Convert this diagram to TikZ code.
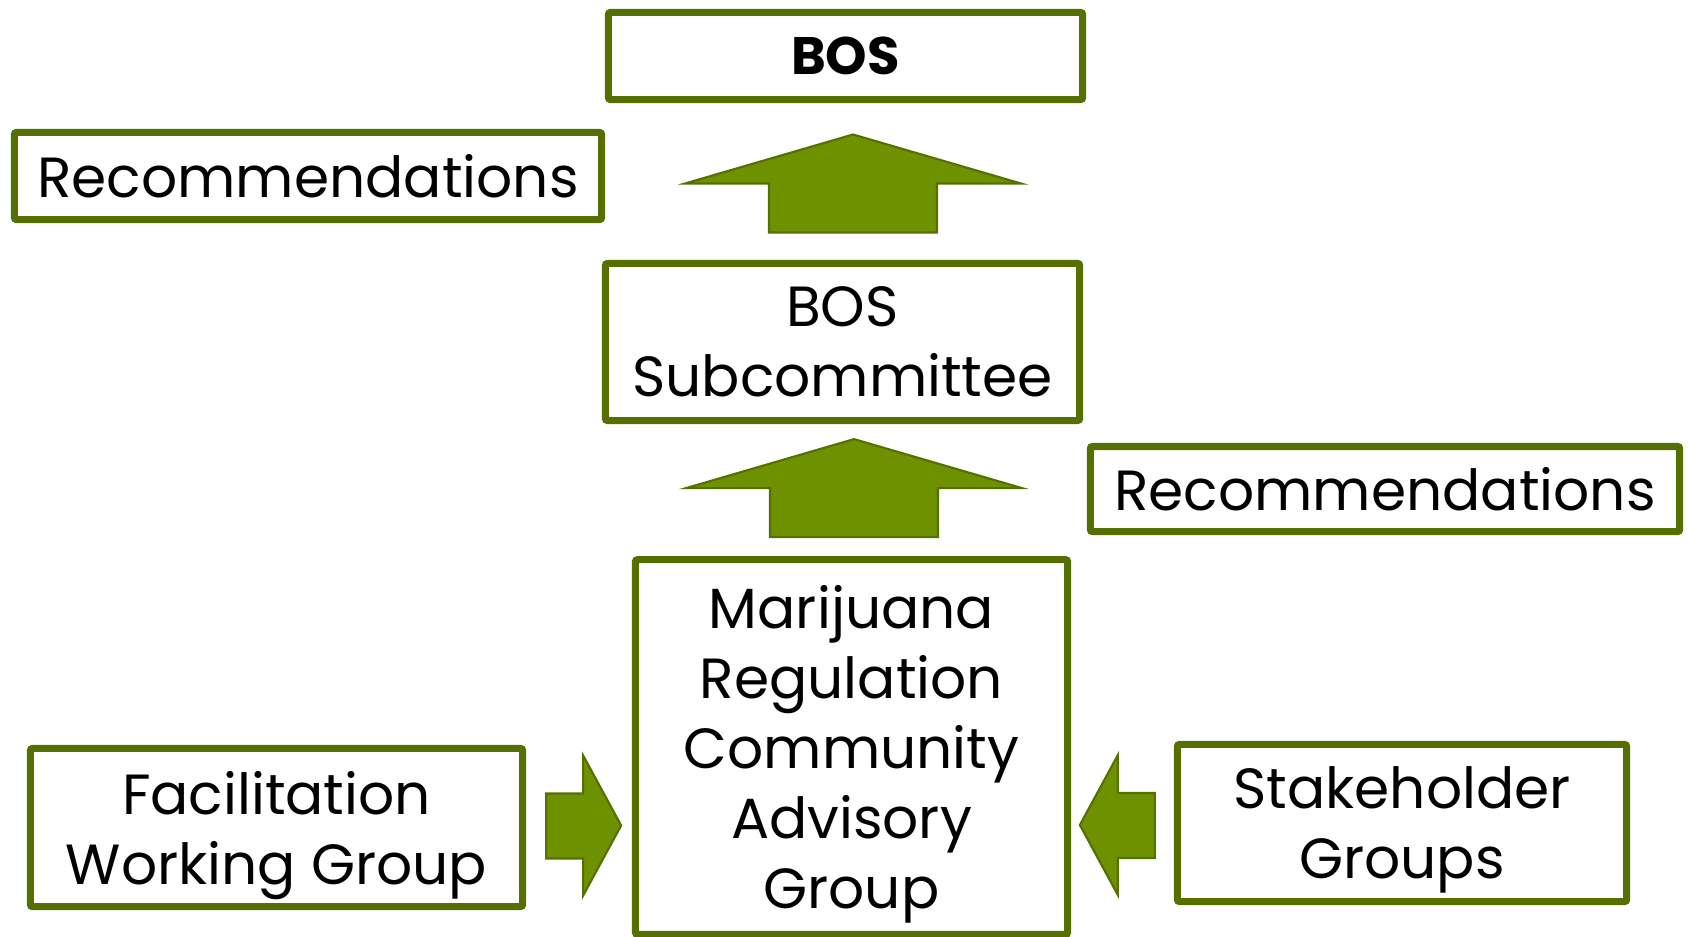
\documentclass[tikz,border=0pt]{standalone}
\usepackage{fontspec}
\setmainfont{Poppins}
\usetikzlibrary{calc}

\definecolor{boxgreen}{RGB}{85,112,0}
\definecolor{arrowgreen}{RGB}{110,145,0}

\begin{document}
\begin{tikzpicture}[
  x=0.01cm, y=-0.01cm,
  box/.style={draw=boxgreen,line width=2pt,rounded corners=0.6pt,fill=white,
    align=center,inner sep=0pt,font=\fontsize{16.1}{19.9}\selectfont},
  blockarrow/.style={draw=boxgreen,line width=0.6pt,fill=arrowgreen,line join=miter},
  uparrow/.pic={\draw[blockarrow] (0,-49) -- (168,0) -- (84,0) -- (84,49)
    -- (-84,49) -- (-84,0) -- (-168,0) -- cycle;},
  sidearrow/.pic={\draw[blockarrow] (37,0) -- (-1,-70) -- (-1,-32) -- (-38,-32)
    -- (-38,33) -- (-1,33) -- (-1,70) -- cycle;}
]
\useasboundingbox (0,0) rectangle (1689,936);

\node[box,minimum width=4.74cm,minimum height=0.87cm] (bos) at (845.5,56)
  {\fontsize{15}{18}\selectfont\bfseries BOS};
\node[box,minimum width=5.87cm,minimum height=0.87cm] (recl) at (308,176) {Recommendations};
\node[box,minimum width=4.74cm,minimum height=1.57cm] (sub) at (842.5,342) {BOS\\Subcommittee};
\node[box,minimum width=5.89cm,minimum height=0.85cm] (recr) at (1385,489) {Recommendations};
\node[box,text depth=0pt,minimum width=4.32cm,minimum height=3.745cm] (mrcag) at (851.5,747)
  {Marijuana\\Regulation\\Community\\Advisory\\Group};
\node[box,text depth=0pt,minimum width=4.92cm,minimum height=1.58cm] (fwg) at (276.5,827.5)
  {Facilitation\\Working Group};
\node[box,text depth=0pt,minimum width=4.49cm,minimum height=1.57cm] (stake) at (1402,823)
  {Stakeholder\\Groups};

% arrows between the boxes
\coordinate (up1) at ($(bos.south)!0.5!(sub.north)+(9,2)$);
\coordinate (up2) at ($(sub.south)!0.5!(mrcag.north)+(7,-2)$);
\coordinate (inl) at ($(fwg.east)+(58,-2)$);
\coordinate (inr) at ($(stake.west)+(-57,2)$);

\pic at (up1) {uparrow};
\pic at (up2) {uparrow};
\pic at (inl) {sidearrow};
\pic[xscale=-1] at (inr) {sidearrow};

\end{tikzpicture}
\end{document}
